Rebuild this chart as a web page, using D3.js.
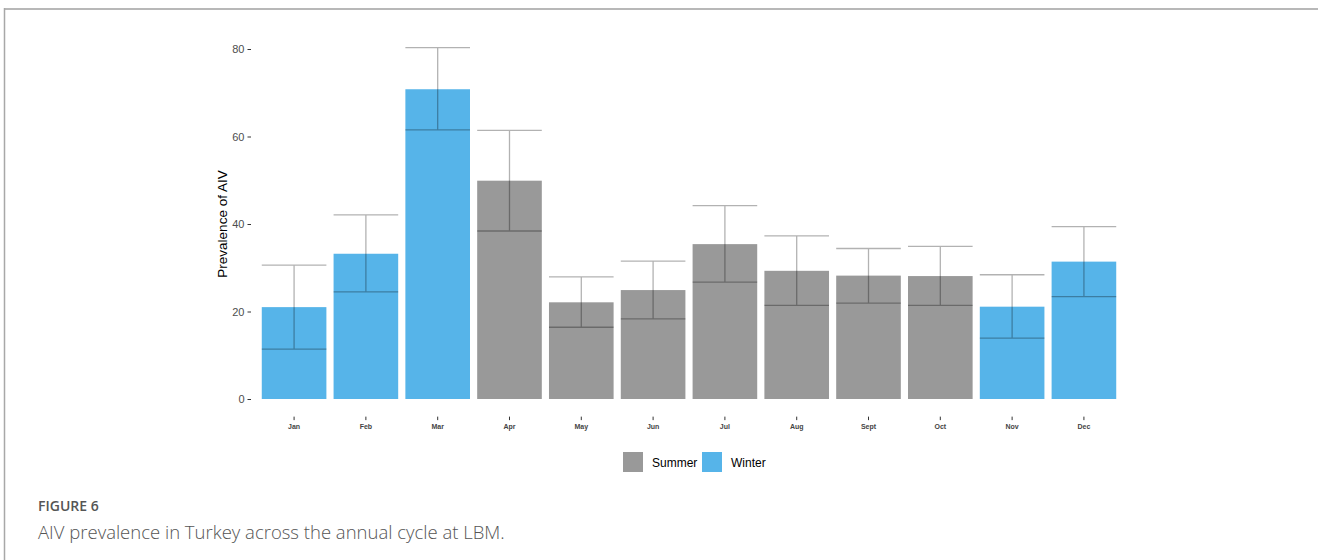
<!DOCTYPE html>
<html>
<head>
<meta charset="utf-8">
<script src="https://cdn.jsdelivr.net/npm/d3@7"></script>
<style>
html,body{margin:0;padding:0;background:#fff;}
svg{display:block;}
</style>
</head>
<body>
<svg id="chart" width="1318" height="560"></svg>
<script>
const months = ["Jan","Feb","Mar","Apr","May","Jun","Jul","Aug","Sept","Oct","Nov","Dec"];
const season = ["Winter","Winter","Winter","Summer","Summer","Summer","Summer","Summer","Summer","Summer","Winter","Winter"];
const prevalence = [21.0, 33.2, 70.8, 49.9, 22.1, 24.9, 35.4, 29.3, 28.2, 28.1, 21.1, 31.4];
const lower = [11.4, 24.5, 61.5, 38.4, 16.4, 18.3, 26.7, 21.4, 21.9, 21.4, 13.9, 23.4];
const upper = [30.6, 42.1, 80.3, 61.4, 27.9, 31.5, 44.2, 37.3, 34.4, 34.9, 28.4, 39.4];
const yTicks = [0, 20, 40, 60, 80];
const legendKeys = ["Summer", "Winter"];
const seasonColors = {Summer: "#999999", Winter: "#56B4E9"};

const svg = d3.select("#chart");

// frame
svg.append("line").attr("x1", 4).attr("x2", 1318).attr("y1", 9).attr("y2", 9)
  .attr("stroke", "#b8b8b8").attr("stroke-width", 2);
svg.append("line").attr("x1", 4.5).attr("x2", 4.5).attr("y1", 8).attr("y2", 560)
  .attr("stroke", "#a8a8a8").attr("stroke-width", 1.5);

const panelLeft = 251, panelRight = 1127;
const x = d3.scaleBand().domain(months).range([panelLeft, panelRight])
  .paddingInner(0.1).paddingOuter(0.15);
const y = d3.scaleLinear().domain([0, 80]).range([399, 49]);
const panelBottom = y(-4.03);

const data = months.map((m, i) => ({m, s: season[i], v: prevalence[i], lo: lower[i], hi: upper[i]}));

// bars
svg.append("g").selectAll("rect").data(data).join("rect")
  .attr("x", d => x(d.m)).attr("width", x.bandwidth())
  .attr("y", d => y(d.v)).attr("height", d => y(0) - y(d.v))
  .attr("fill", d => seasonColors[d.s]);

// error bars
const eb = svg.append("g").attr("stroke", "#000").attr("stroke-opacity", 0.3).attr("stroke-width", 1.3).attr("fill", "none");
data.forEach(d => {
  const x0 = x(d.m), x1 = x(d.m) + x.bandwidth(), xc = x(d.m) + x.bandwidth() / 2;
  const path = d3.path();
  path.moveTo(x0, y(d.hi)); path.lineTo(x1, y(d.hi));
  path.moveTo(xc, y(d.hi)); path.lineTo(xc, y(d.lo));
  path.moveTo(x0, y(d.lo)); path.lineTo(x1, y(d.lo));
  eb.append("path").attr("d", path.toString());
});

// y axis
const yAxis = svg.append("g").attr("transform", `translate(${panelLeft},0)`)
  .call(d3.axisLeft(y).tickValues(yTicks).tickSize(3.5).tickPadding(3));
yAxis.select(".domain").remove();
yAxis.selectAll(".tick line").attr("stroke", "#333").attr("stroke-width", 1);
yAxis.selectAll(".tick text").attr("fill", "#4d4d4d")
  .style("font-family", "Liberation Sans, Arial, sans-serif").style("font-size", "11px");

// x axis
const xAxis = svg.append("g").attr("transform", `translate(0,${panelBottom})`)
  .call(d3.axisBottom(x).tickSize(3.5).tickPadding(4));
xAxis.select(".domain").remove();
xAxis.selectAll(".tick line").attr("stroke", "#333").attr("stroke-width", 1);
xAxis.selectAll(".tick text").attr("fill", "#444")
  .style("font-family", "Liberation Sans, Arial, sans-serif").style("font-size", "7px").style("font-weight", "bold");

// y title
svg.append("text").attr("transform", `translate(227,${(y(0)+y(80))/2}) rotate(-90)`)
  .attr("text-anchor", "middle").attr("fill", "#000")
  .style("font-family", "Liberation Sans, Arial, sans-serif").style("font-size", "13.5px")
  .text("Prevalence of AIV");

// legend
const legendX = [623, 702];
const lg = svg.append("g");
legendKeys.forEach((k, i) => {
  lg.append("rect").attr("x", legendX[i]).attr("y", 452).attr("width", 20).attr("height", 20)
    .attr("fill", seasonColors[k]);
  lg.append("text").attr("x", legendX[i] + 29).attr("y", 466.5).attr("fill", "#000")
    .style("font-family", "Liberation Sans, Arial, sans-serif").style("font-size", "12px")
    .text(k);
});

// caption
svg.append("text").attr("x", 38).attr("y", 511).attr("fill", "#555")
  .style("font-family", "Open Sans, sans-serif").style("font-size", "14px").style("font-weight", "600")
  .text("FIGURE 6");
svg.append("text").attr("x", 38).attr("y", 539).attr("fill", "#555")
  .style("font-family", "Open Sans, sans-serif").style("font-size", "18.5px").style("font-weight", "300")
  .text("AIV prevalence in Turkey across the annual cycle at LBM.");
</script>
</body>
</html>
